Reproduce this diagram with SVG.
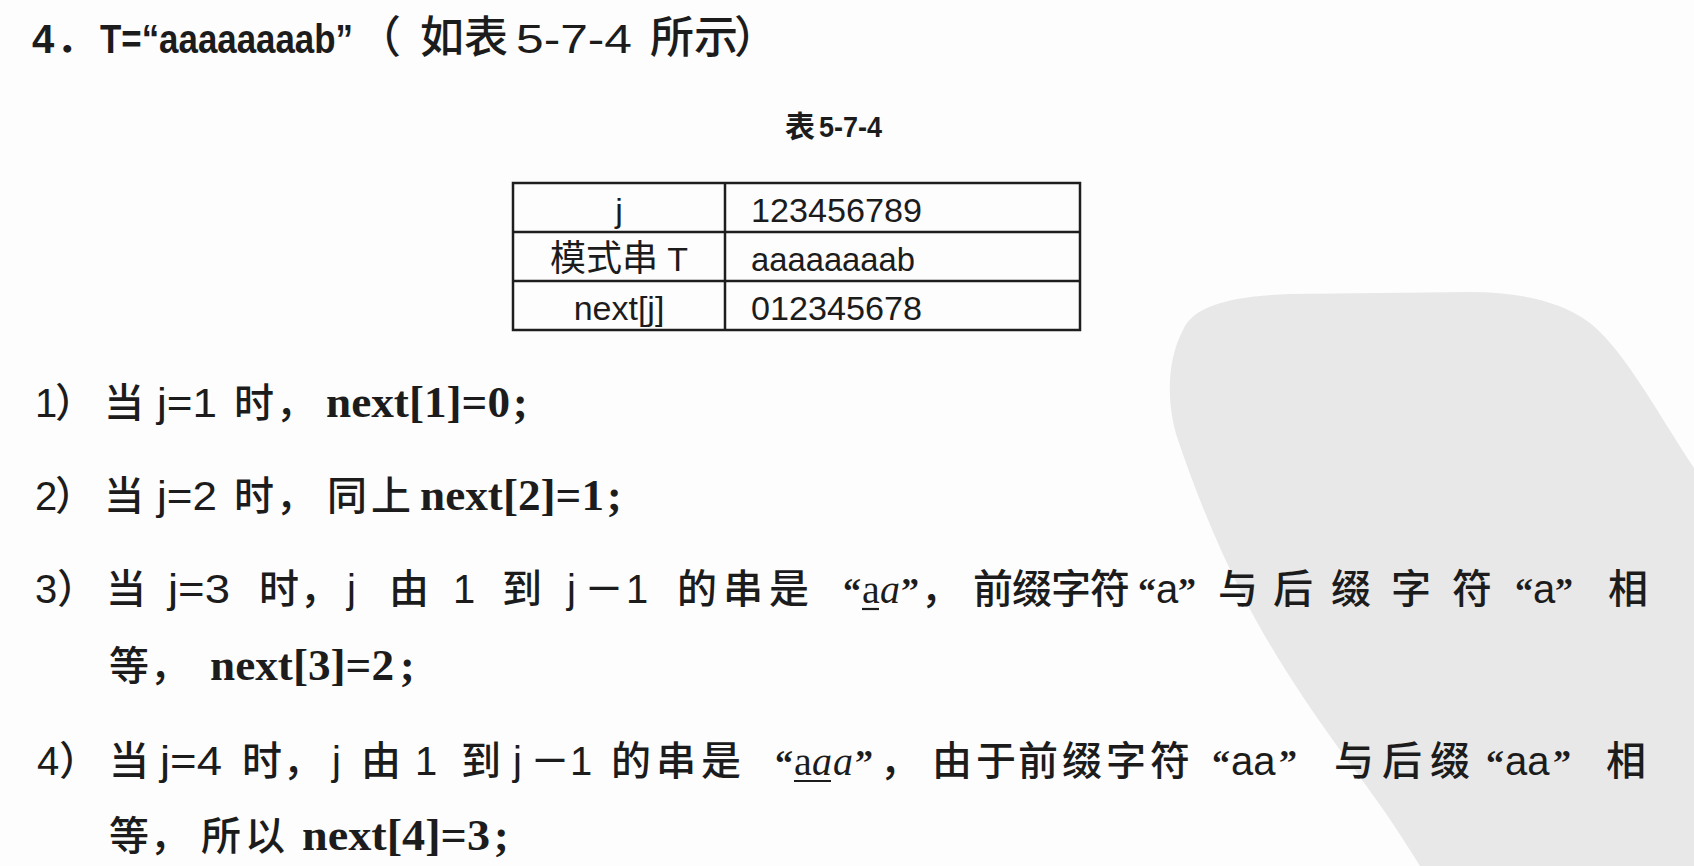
<svg xmlns="http://www.w3.org/2000/svg" width="1694" height="866" viewBox="0 0 1694 866">
<style>
  text { fill: #1c1c1c; }
  .cjk { font-family: "Noto Sans CJK SC", "Noto Sans", sans-serif; font-size: 40px; font-weight: 500; }
  .cjkT { font-family: "Noto Sans CJK SC", "Noto Sans", sans-serif; font-size: 44px; font-weight: 500; }
  .sans { font-family: "Liberation Sans", "Noto Sans", sans-serif; font-size: 40px; }
  .sansB { font-family: "Liberation Sans", "Noto Sans", sans-serif; font-size: 40px; font-weight: bold; }
  .serif { font-family: "Liberation Serif", "DejaVu Serif", serif; font-size: 44px; font-weight: bold; }
  .q { font-family: "Liberation Serif", "DejaVu Serif", serif; font-size: 36px; font-weight: bold; }
  .ar { font-family: "Liberation Serif", "DejaVu Serif", serif; font-size: 40px; }
  .it { font-family: "Liberation Serif", "DejaVu Serif", serif; font-size: 40px; font-style: italic; }
  .tb { font-family: "Liberation Sans", "Noto Sans", "Noto Sans CJK SC", sans-serif; font-size: 34px; }
  .tbc { font-family: "Noto Sans CJK SC", sans-serif; font-size: 36px; }
  .grid { fill: none; stroke: #1e1e1e; stroke-width: 2.5; }
  .ul { stroke: #1c1c1c; stroke-width: 2.2; }
</style>
<rect width="1694" height="866" fill="#fdfdfd"/>
<g id="watermark">
  <path d="M1183,330 C1193,306 1230,296 1290,294 L1470,292 C1530,292 1575,306 1600,332 C1630,362 1655,408 1694,468 L1694,866 L1420,866 C1395,825 1370,790 1340,750 C1300,695 1265,640 1240,590 C1215,540 1195,490 1178,440 C1165,400 1168,358 1183,330 Z" fill="#e8e8e8"/>
</g>
<g id="connectors"></g>
<g id="title">
  <text y="53"><tspan class="sansB" x="32">4</tspan><tspan class="cjkT" x="56">．</tspan></text>
  <text class="sansB" transform="translate(100,53) scale(0.872,1)">T=“aaaaaaaab”</text>
  <text y="53"><tspan class="cjkT" x="357">（</tspan><tspan class="cjkT" x="420">如表</tspan><tspan class="sans" x="516" textLength="116" lengthAdjust="spacingAndGlyphs">5-7-4</tspan><tspan class="cjkT" x="650">所示</tspan><tspan class="cjkT" x="734">）</tspan></text>
</g>
<g id="caption">
  <text y="137"><tspan class="cjk" x="785" style="font-size:30px;font-weight:bold">表</tspan><tspan class="sansB" x="819" style="font-size:30px" textLength="63" lengthAdjust="spacingAndGlyphs">5-7-4</tspan></text>
</g>
<g id="table">
  <rect class="grid" x="513" y="183" width="567" height="147"/>
  <line class="grid" x1="513" y1="232" x2="1080" y2="232"/>
  <line class="grid" x1="513" y1="281" x2="1080" y2="281"/>
  <line class="grid" x1="725" y1="183" x2="725" y2="330"/>
  <text class="tb" x="619" y="222" text-anchor="middle">j</text>
  <text class="tb" x="751" y="222" textLength="171" lengthAdjust="spacingAndGlyphs">123456789</text>
  <text x="619" y="271" text-anchor="middle"><tspan class="tbc">模式串</tspan><tspan class="tb"> T</tspan></text>
  <text class="tb" x="751" y="271" textLength="164" lengthAdjust="spacingAndGlyphs">aaaaaaaab</text>
  <text class="tb" x="619" y="320" text-anchor="middle">next[j]</text>
  <text class="tb" x="751" y="320" textLength="171" lengthAdjust="spacingAndGlyphs">012345678</text>
</g>
<g id="step1">
  <text y="417"><tspan class="sans" x="35">1</tspan><tspan class="cjk" x="55">）</tspan><tspan class="cjk" x="104">当</tspan><tspan class="sans" x="157" textLength="60" lengthAdjust="spacingAndGlyphs">j=1</tspan><tspan class="cjk" x="234">时</tspan><tspan class="cjk" x="276">，</tspan><tspan class="serif" x="326" textLength="184" lengthAdjust="spacingAndGlyphs">next[1]=0</tspan><tspan class="serif" x="513">;</tspan></text>
</g>
<g id="step2">
  <text y="510"><tspan class="sans" x="35">2</tspan><tspan class="cjk" x="55">）</tspan><tspan class="cjk" x="104">当</tspan><tspan class="sans" x="157" textLength="60" lengthAdjust="spacingAndGlyphs">j=2</tspan><tspan class="cjk" x="234">时</tspan><tspan class="cjk" x="276">，</tspan><tspan class="cjk" x="327 371">同上</tspan><tspan class="serif" x="420" textLength="184" lengthAdjust="spacingAndGlyphs">next[2]=1</tspan><tspan class="serif" x="607">;</tspan></text>
</g>
<g id="step3">
  <text y="603"><tspan class="sans" x="35">3</tspan><tspan class="cjk" x="57">）</tspan><tspan class="cjk" x="106">当</tspan><tspan class="sans" x="168" textLength="62" lengthAdjust="spacingAndGlyphs">j=3</tspan><tspan class="cjk" x="259">时</tspan><tspan class="cjk" x="300">，</tspan><tspan class="sans" x="347">j</tspan><tspan class="cjk" x="389">由</tspan><tspan class="sans" x="453">1</tspan><tspan class="cjk" x="502">到</tspan><tspan class="sans" x="567">j</tspan><tspan class="cjk" x="584">－</tspan><tspan class="sans" x="626">1</tspan><tspan class="cjk" x="677 723 769">的串是</tspan><tspan class="q" x="843">“</tspan><tspan class="ar" x="862">a</tspan><tspan class="it" x="880">a</tspan><tspan class="q" x="901">”</tspan><tspan class="cjk" x="921">，</tspan><tspan class="cjk" x="973 1012 1051 1090">前缀字符</tspan><tspan class="q" x="1138">“</tspan><tspan class="sans" x="1156">a</tspan><tspan class="q" x="1178">”</tspan><tspan class="cjk" x="1218">与</tspan><tspan class="cjk" x="1273 1331 1391 1452">后缀字符</tspan><tspan class="q" x="1515">“</tspan><tspan class="sans" x="1533">a</tspan><tspan class="q" x="1555">”</tspan><tspan class="cjk" x="1608">相</tspan></text>
  <line class="ul" x1="862" y1="609" x2="879" y2="609"/>
  <text y="680"><tspan class="cjk" x="109">等</tspan><tspan class="cjk" x="150">，</tspan><tspan class="serif" x="210" textLength="184" lengthAdjust="spacingAndGlyphs">next[3]=2</tspan><tspan class="serif" x="400">;</tspan></text>
</g>
<g id="step4">
  <text y="775"><tspan class="sans" x="37">4</tspan><tspan class="cjk" x="59">）</tspan><tspan class="cjk" x="109">当</tspan><tspan class="sans" x="160" textLength="62" lengthAdjust="spacingAndGlyphs">j=4</tspan><tspan class="cjk" x="242">时</tspan><tspan class="cjk" x="283">，</tspan><tspan class="sans" x="332">j</tspan><tspan class="cjk" x="361">由</tspan><tspan class="sans" x="415">1</tspan><tspan class="cjk" x="461">到</tspan><tspan class="sans" x="513">j</tspan><tspan class="cjk" x="530">－</tspan><tspan class="sans" x="570">1</tspan><tspan class="cjk" x="611 656 701">的串是</tspan><tspan class="q" x="775">“</tspan><tspan class="ar" x="794">a</tspan><tspan class="it" x="812">a</tspan><tspan class="it" x="833">a</tspan><tspan class="q" x="855">”</tspan><tspan class="cjk" x="880">，</tspan><tspan class="cjk" x="932 976">由于</tspan><tspan class="cjk" x="1018 1062 1106 1150">前缀字符</tspan><tspan class="q" x="1212">“</tspan><tspan class="sans" x="1231">aa</tspan><tspan class="q" x="1279">”</tspan><tspan class="cjk" x="1334 1382 1430">与后缀</tspan><tspan class="q" x="1486">“</tspan><tspan class="sans" x="1505">aa</tspan><tspan class="q" x="1553">”</tspan><tspan class="cjk" x="1606">相</tspan></text>
  <line class="ul" x1="794" y1="781" x2="831" y2="781"/>
  <text y="850"><tspan class="cjk" x="109">等</tspan><tspan class="cjk" x="150">，</tspan><tspan class="cjk" x="201 245">所以</tspan><tspan class="serif" x="302" textLength="188" lengthAdjust="spacingAndGlyphs">next[4]=3</tspan><tspan class="serif" x="494">;</tspan></text>
</g>
</svg>
